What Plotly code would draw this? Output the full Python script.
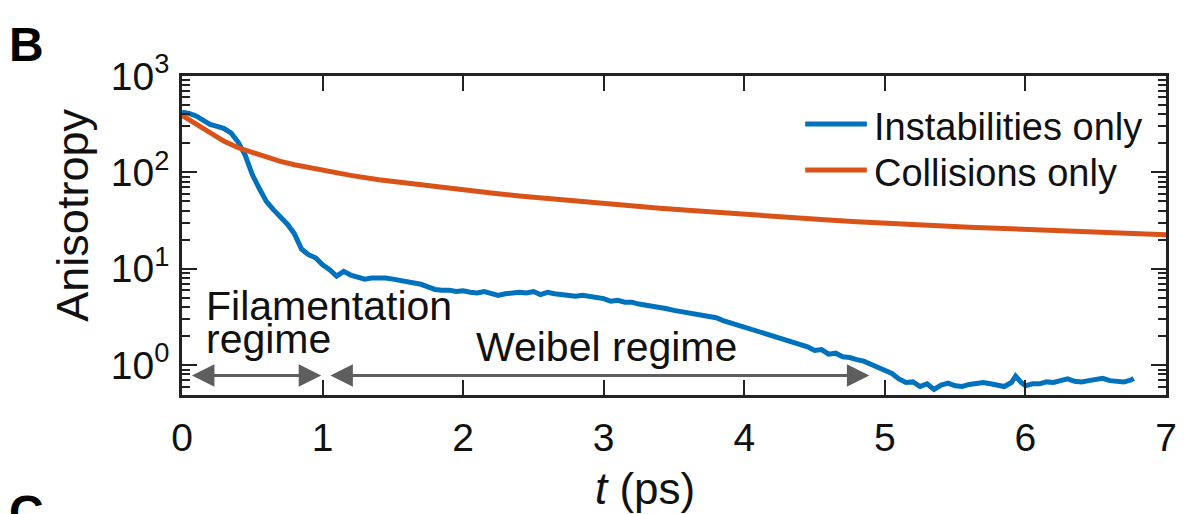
import math
import plotly.graph_objects as go

# Time axis (ps) and anisotropy for the instability-only simulation
t_inst = [0.00, 0.05, 0.10, 0.15, 0.20, 0.25, 0.30, 0.35, 0.40, 0.45,
          0.50, 0.55, 0.60, 0.65, 0.70, 0.75, 0.80, 0.85, 0.90, 0.95,
          1.00, 1.05, 1.10, 1.15, 1.20, 1.25, 1.30, 1.35, 1.40, 1.45,
          1.50, 1.55, 1.60, 1.65, 1.70, 1.75, 1.80, 1.85, 1.90, 1.95,
          2.00, 2.05, 2.10, 2.15, 2.20, 2.25, 2.30, 2.35, 2.40, 2.45,
          2.50, 2.55, 2.60, 2.65, 2.70, 2.75, 2.80, 2.85, 2.90, 2.95,
          3.00, 3.05, 3.10, 3.15, 3.20, 3.25, 3.30, 3.35, 3.40, 3.45,
          3.50, 3.55, 3.60, 3.65, 3.70, 3.75, 3.80, 3.85, 3.90, 3.95,
          4.00, 4.05, 4.10, 4.15, 4.20, 4.25, 4.30, 4.35, 4.40, 4.45,
          4.50, 4.55, 4.60, 4.65, 4.70, 4.75, 4.80, 4.85, 4.90, 4.95,
          5.00, 5.05, 5.10, 5.15, 5.20, 5.25, 5.30, 5.35, 5.40, 5.45,
          5.50, 5.55, 5.60, 5.65, 5.70, 5.75, 5.80, 5.85, 5.90, 5.93,
          5.97, 6.00, 6.05, 6.10, 6.15, 6.20, 6.25, 6.30, 6.35, 6.40,
          6.45, 6.50, 6.55, 6.60, 6.65, 6.70, 6.75, 6.77]
a_inst = [420, 410, 385, 345, 315, 300, 285, 255, 205, 150,
          95, 68, 50, 41, 35, 29, 23, 16, 14, 13,
          11, 9.8, 8.4, 9.4, 8.6, 8.2, 7.8, 8.0, 8.1, 8.0,
          7.8, 7.6, 7.3, 7.1, 6.9, 6.5, 6.1, 6.0, 6.0, 5.8,
          5.9, 5.7, 5.6, 5.8, 5.5, 5.3, 5.5, 5.6, 5.7, 5.6,
          5.8, 5.4, 5.7, 5.5, 5.4, 5.3, 5.2, 5.3, 5.2, 5.1,
          4.9, 4.6, 4.7, 4.5, 4.5, 4.3, 4.2, 4.1, 4.0, 3.85,
          3.7, 3.6, 3.5, 3.4, 3.3, 3.2, 3.1, 2.9, 2.75, 2.6,
          2.5, 2.35, 2.2, 2.1, 2.0, 1.9, 1.8, 1.7, 1.62, 1.55,
          1.42, 1.45, 1.3, 1.33, 1.22, 1.2, 1.14, 1.1, 1.02, 0.95,
          0.88, 0.82, 0.72, 0.66, 0.67, 0.60, 0.64, 0.56, 0.62, 0.65,
          0.61, 0.60, 0.63, 0.64, 0.66, 0.64, 0.62, 0.60, 0.66, 0.77,
          0.66, 0.61, 0.64, 0.64, 0.67, 0.66, 0.69, 0.72, 0.68, 0.67,
          0.69, 0.70, 0.73, 0.69, 0.68, 0.67, 0.70, 0.73]

# Time axis (ps) and anisotropy for the collision-only simulation
t_coll = [0.0, 0.1, 0.2, 0.3, 0.4, 0.5, 0.6, 0.7, 0.8, 0.9,
          1.0, 1.2, 1.4, 1.6, 1.8, 2.0, 2.2, 2.4, 2.6, 2.8,
          3.0, 3.2, 3.4, 3.6, 3.8, 4.0, 4.2, 4.4, 4.6, 4.8,
          5.0, 5.2, 5.4, 5.6, 5.8, 6.0, 6.2, 6.4, 6.6, 6.8, 7.0]
a_coll = [390, 320, 255, 210, 180, 160, 142, 130, 120, 112,
          104, 93, 84, 77, 71, 66, 61, 57, 53.5, 50.5,
          47.5, 45, 42.5, 40.5, 38.5, 36.5, 35, 33.5, 32, 30.8,
          29.6, 28.6, 27.8, 27, 26.3, 25.6, 25, 24.5, 24, 23.2, 22.5]

series_names = ["Instabilities only", "Collisions only"]
series_colors = ["#0072BD", "#D95319"]

x_ticks = [0, 1, 2, 3, 4, 5, 6, 7]
y_ticks = [1, 10, 100, 1000]
y_ticktext = ["10<sup>0</sup>", "10<sup>1</sup>", "10<sup>2</sup>", "10<sup>3</sup>"]
y_minor = [m * 10 ** k for k in range(-1, 3) for m in range(2, 10)]

# Regime markers: arrow start/end in ps
fil_span = (0.06, 0.99)
wei_span = (1.045, 4.89)
arrow_level = 0.78

FONT = "Liberation Sans, Arial, Helvetica, sans-serif"
AX = "#222222"
ARROW = "#5e5e5e"

W, H = 1189, 514
ML, MR, MT, MB = 182, 17, 76, 119
PW, PH = W - ML - MR, H - MT - MB


def px(x):
    return (x - ML) / PW


def py(y):
    return (H - MB - y) / PH


fig = go.Figure()
fig.add_trace(go.Scatter(x=t_inst, y=a_inst, mode="lines", name=series_names[0],
                         line=dict(color=series_colors[0], width=5), showlegend=False))
fig.add_trace(go.Scatter(x=t_coll, y=a_coll, mode="lines", name=series_names[1],
                         line=dict(color=series_colors[1], width=5), showlegend=False))

annotations = []
shapes = []

# Legend drawn as line samples plus labels
for i, (name, col) in enumerate(zip(series_names, series_colors)):
    yc = 124 + 46 * i
    shapes.append(dict(type="line", xref="paper", yref="paper",
                       x0=px(809), x1=px(871), y0=py(yc), y1=py(yc),
                       line=dict(color=col, width=5)))
    annotations.append(dict(xref="paper", yref="paper", x=px(876), y=py(yc + 3),
                            xanchor="left", yanchor="middle", showarrow=False,
                            text=name, font=dict(size=38, color="#111", family=FONT)))

# Regime arrows (double headed)
for a0, a1 in (fil_span, wei_span):
    ly = math.log10(arrow_level)
    annotations.append(dict(x=a1, y=ly, ax=a0, ay=ly, xref="x", yref="y",
                            axref="x", ayref="y", text="", showarrow=True,
                            arrowhead=2, startarrowhead=2, arrowside="end+start",
                            arrowsize=1.5, startarrowsize=1.5, arrowwidth=3,
                            arrowcolor=ARROW, standoff=0, startstandoff=0))

# Regime labels
annotations.append(dict(x=0.16, y=0.617, xref="x", yref="y", xanchor="left",
                        yanchor="middle", showarrow=False, text="Filamentation",
                        font=dict(size=41, color="#111", family=FONT)))
annotations.append(dict(x=0.16, y=0.275, xref="x", yref="y", xanchor="left",
                        yanchor="middle", showarrow=False, text="regime",
                        font=dict(size=41, color="#111", family=FONT)))
annotations.append(dict(x=2.08, y=0.19, xref="x", yref="y", xanchor="left",
                        yanchor="middle", showarrow=False, text="Weibel regime",
                        font=dict(size=41, color="#111", family=FONT)))

# Axis titles
annotations.append(dict(xref="paper", yref="paper", x=px(71), y=py(215),
                        xanchor="center", yanchor="middle", textangle=-90,
                        showarrow=False, text="Anisotropy",
                        font=dict(size=45, color="#111", family=FONT)))
annotations.append(dict(xref="paper", yref="paper", x=px(648), y=py(488),
                        xanchor="center", yanchor="middle", showarrow=False,
                        text="<i>t</i> (ps)",
                        font=dict(size=44, color="#111", family=FONT)))

# Panel letters
annotations.append(dict(xref="paper", yref="paper", x=px(6), y=py(16),
                        xanchor="left", yanchor="top", showarrow=False,
                        text="<b>B</b>", font=dict(size=48, color="#000", family=FONT)))
annotations.append(dict(xref="paper", yref="paper", x=px(6), y=py(484),
                        xanchor="left", yanchor="top", showarrow=False,
                        text="<b>C</b>", font=dict(size=48, color="#000", family=FONT)))

fig.update_layout(
    width=W, height=H,
    margin=dict(l=ML, r=MR, t=MT, b=MB, pad=0),
    paper_bgcolor="white", plot_bgcolor="white",
    font=dict(family=FONT, color="#111"),
    annotations=annotations, shapes=shapes,
    xaxis=dict(range=[0, 7], tickmode="array", tickvals=x_ticks,
               ticks="inside", ticklen=15, tickwidth=2, tickcolor=AX,
               showline=True, linecolor=AX, linewidth=2.5, mirror="allticks",
               showgrid=False, zeroline=False, ticklabelstandoff=6,
               tickfont=dict(size=39, family=FONT, color="#111")),
    yaxis=dict(type="log", range=[-0.31, 3.0], tickmode="array",
               tickvals=y_ticks, ticktext=y_ticktext,
               ticks="inside", ticklen=15, tickwidth=2, tickcolor=AX,
               showline=True, linecolor=AX, linewidth=2.5, mirror="allticks",
               showgrid=False, zeroline=False, ticklabelstandoff=2,
               minor=dict(tickmode="array", tickvals=y_minor, ticks="inside",
                          ticklen=8, tickwidth=2, tickcolor=AX, showgrid=False),
               tickfont=dict(size=39, family=FONT, color="#111")),
)

fig.write_html("out.html")
